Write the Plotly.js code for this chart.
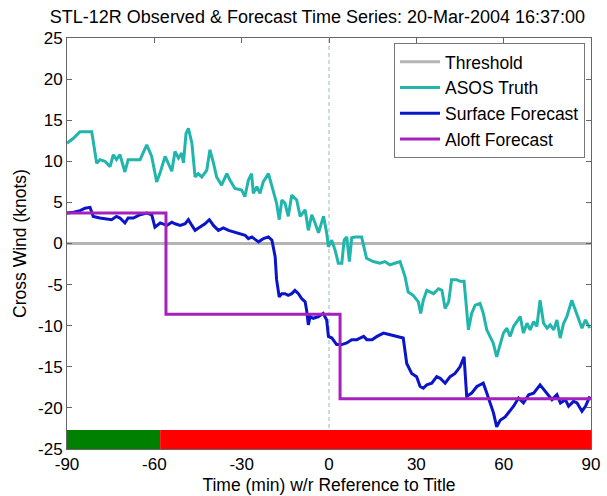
<!DOCTYPE html>
<html><head><meta charset="utf-8">
<script src="https://cdn.plot.ly/plotly-3.0.1.min.js"></script>
<style>html,body{margin:0;padding:0;background:#fff}#chart{width:607px;height:496px}</style>
</head><body><div id="chart"></div>
<script>
// ASOS Truth (observed crosswind, knots)
const asosT = [-90,-87.8,-85.5,-81.5,-79.8,-78.7,-77,-75.2,-74.1,-73,-71.8,-70.1,-69,-64.9,-62.6,-60.9,-59.2,-58.1,-56.3,-55.2,-54,-52.9,-51.7,-50.6,-50,-49.1,-48.3,-47.1,-46,-44.9,-43.7,-42,-40.9,-39.7,-38.6,-36.9,-35.1,-34,-32.3,-30,-28.9,-27.7,-26.6,-26,-24.8,-23.7,-22.6,-20.8,-19.1,-18,-17.1,-16.2,-15.1,-14,-12.8,-11.1,-9.9,-8.2,-7.1,-5.9,-4.8,-3.6,-1.9,-0.8,-0.2,0.9,2.1,3.2,4.4,5.2,6.1,7,7.8,9,11.2,12.9,15.2,17.5,19.2,20.9,22.6,24.4,26.1,27.2,28.9,30.7,31.5,32.4,33.6,35.9,37.6,38.8,39.9,41.1,42.1,43.9,45,46.4,47.9,49,50.2,51.9,53,54.2,55.3,56.4,57.6,58.8,59.9,61.1,62.2,63.4,64.5,65.7,66.8,68,69.1,70.3,71.4,72.5,73.7,74.9,76,77.2,78.3,79.4,80.6,81.7,83.4,85.2,86.9,88.1,89.6];
const asosV = [12.2,12.8,13.6,13.6,9.75,10.2,10,9.35,10.8,10.2,10.8,8.7,10.2,10.2,12,10.6,7.5,8.5,10.6,9.8,8.8,11.2,10.4,11,9.8,13.4,14.0,12.2,8.1,8.5,8.1,8.9,11.4,9.8,8.1,7.1,8.5,7.7,6.7,6.5,5.7,7.7,8.5,6.1,6.9,6.1,7.5,8.5,6.3,4.9,2.9,5.3,4.9,3.3,5.9,5.3,3.3,4.1,1.6,3.5,2.5,1.3,3.3,1.3,-0.4,0.4,-0.8,-2.4,-2.4,0.4,0.8,-2.2,0.7,0.8,0.8,-1.8,-2.2,-2.4,-2.2,-2.6,-2.4,-2.2,-4.0,-5.9,-6.3,-7.1,-8.5,-6.9,-5.7,-6.1,-5.5,-5.7,-7.9,-7.1,-4.4,-4.4,-4.6,-4.6,-10.5,-8.5,-7.5,-7.3,-8.5,-10.5,-11.3,-12.1,-13.8,-12.1,-10.9,-10.3,-11.3,-10.1,-9.5,-8.9,-10.9,-9.7,-10.5,-9.5,-10.1,-6.9,-9.7,-10.3,-9.9,-10.5,-9.3,-11.5,-9.7,-8.9,-6.9,-8.7,-10.3,-9.3,-10.3];

// Surface Forecast
const surfT = [-90,-87.7,-85.5,-83.8,-82.1,-81,-78.7,-76.4,-74.7,-73,-71.8,-70.1,-69,-67.2,-64.9,-62.6,-60.9,-59.8,-58,-55.7,-54,-52.9,-51.1,-49.4,-48.3,-47.1,-46,-44.3,-42.6,-41.1,-39.7,-38,-36.3,-34.5,-32.8,-30.5,-28.8,-27.7,-26.5,-25.4,-24.2,-22.5,-20.8,-19.6,-18.5,-18,-17.1,-16.2,-15.1,-14,-12.8,-11.7,-10.5,-9.4,-8.2,-7.7,-7.1,-6.5,-5.4,-3.6,-2.0,-0.8,-0.2,1.0,2.6,4.4,6.1,7.8,9.6,10.7,11.9,13,14.8,16.5,18.7,21,23.2,25.5,26.7,28.4,30.1,31.3,32.4,33.6,35.3,37,38.2,39.9,41.6,43.3,45,46.4,47.3,49,50.8,53,54.2,55.3,56.5,57.6,58.8,60.5,62.2,63.4,65.1,66.8,68.6,70.3,72.5,74.9,76.6,78.3,79.5,81.2,82.3,84,85.2,86.9,88.1,89.6];
const surfV = [3.7,3.8,4.0,4.3,4.4,3.3,3.1,3.0,2.9,3.3,3.1,2.5,3.1,3.1,3.5,3.7,3.5,2.0,2.5,2.2,2.6,2.4,2.2,2.4,2.9,2.2,1.6,2.0,2.4,2.9,2.2,1.6,1.9,1.6,1.4,1.2,1.0,0.6,0.8,0.5,0.2,0.6,0.8,0.4,-1.6,-4.4,-6.5,-6.1,-6.1,-6.3,-6.1,-5.7,-6.1,-6.7,-7.1,-8.1,-9.9,-8.9,-9.1,-8.9,-8.5,-9.3,-11.3,-11.5,-12.3,-12.3,-12.1,-11.7,-11.7,-11.5,-11.3,-11.7,-11.7,-11.3,-10.9,-11.1,-11.3,-11.5,-14.6,-15.8,-16.2,-17.4,-17.6,-17.2,-17.0,-16.2,-16.4,-17.0,-16.2,-15.8,-15.0,-13.8,-18.6,-18.2,-17.4,-17.0,-18.2,-19.4,-20.6,-22.3,-21.5,-21.1,-20.4,-19.8,-18.8,-19.4,-18.4,-18.2,-17.2,-18.2,-19.0,-18.4,-19.4,-19.0,-19.8,-19.2,-19.4,-20.4,-19.8,-18.6];

// Aloft Forecast (step function)
const aloftT = [-90,-56,-56,3.8,3.8,90];
const aloftV = [3.7,3.7,-8.6,-8.6,-18.9,-18.9];

// Threshold
const threshT = [-90,90];
const threshV = [0,0];

// Status bar segments
const statusStart = [-90,-58];
const statusEnd = [-58,90];
const statusColors = ['#008000','#ff0000'];
const statusBottom = -25, statusTop = -22.7;

const xTicks = [-90,-60,-30,0,30,60,90];
const yTicks = [-25,-20,-15,-10,-5,0,5,10,15,20,25];

const traces = [
  {x:threshT,y:threshV,mode:'lines',name:'Threshold',line:{color:'#b4b4b4',width:3}},
  {x:asosT,y:asosV,mode:'lines',name:'ASOS Truth',line:{color:'#22b5ac',width:3}},
  {x:surfT,y:surfV,mode:'lines',name:'Surface Forecast',line:{color:'#0a14c8',width:3}},
  {x:aloftT,y:aloftV,mode:'lines',name:'Aloft Forecast',line:{color:'#a520bd',width:3}}
];

const shapes = statusStart.map((s,i)=>({type:'rect',xref:'x',yref:'y',x0:s,x1:statusEnd[i],y0:statusBottom,y1:statusTop,fillcolor:statusColors[i],line:{width:0},layer:'above'}));
shapes.push({type:'line',xref:'x',yref:'paper',x0:0,x1:0,y0:0,y1:1,line:{color:'#93bdb8',width:1,dash:'4px,3px'},layer:'below'});

const fam = 'Liberation Sans, Arial, sans-serif';
const layout = {
  width:607,height:496,
  margin:{l:67,r:16,t:38,b:47},
  paper_bgcolor:'#fff',plot_bgcolor:'#fff',
  font:{family:fam,size:17,color:'#000'},
  showlegend:true,
  title:{text:'STL-12R Observed & Forecast Time Series: 20-Mar-2004 16:37:00',font:{family:fam,size:18,color:'#000'},x:0.523,xanchor:'center',y:0.966,yanchor:'middle'},
  xaxis:{range:[-90,90],tickvals:xTicks,ticktext:xTicks.map(String),ticks:'inside',ticklen:5,tickcolor:'#666',showline:true,linecolor:'#666',linewidth:1,mirror:'ticks',showgrid:false,zeroline:false,
    title:{text:'Time (min) w/r Reference to Title',font:{size:17.5},standoff:5},tickfont:{size:17}},
  yaxis:{range:[-25,25],tickvals:yTicks,ticktext:yTicks.map(String),ticks:'inside',ticklen:5,tickcolor:'#666',showline:true,linecolor:'#666',linewidth:1,mirror:'ticks',showgrid:false,zeroline:false,
    title:{text:'Cross Wind (knots)',font:{size:17.5},standoff:6},tickfont:{size:17}},
  legend:{x:0.9885,xanchor:'right',y:0.988,yanchor:'top',bgcolor:'#fff',bordercolor:'#777',borderwidth:1,font:{size:17.5,family:fam,color:'#000'},itemwidth:40,tracegroupgap:0},
  shapes:shapes
};
Plotly.newPlot('chart',traces,layout,{displayModeBar:false,staticPlot:true});
</script></body></html>
